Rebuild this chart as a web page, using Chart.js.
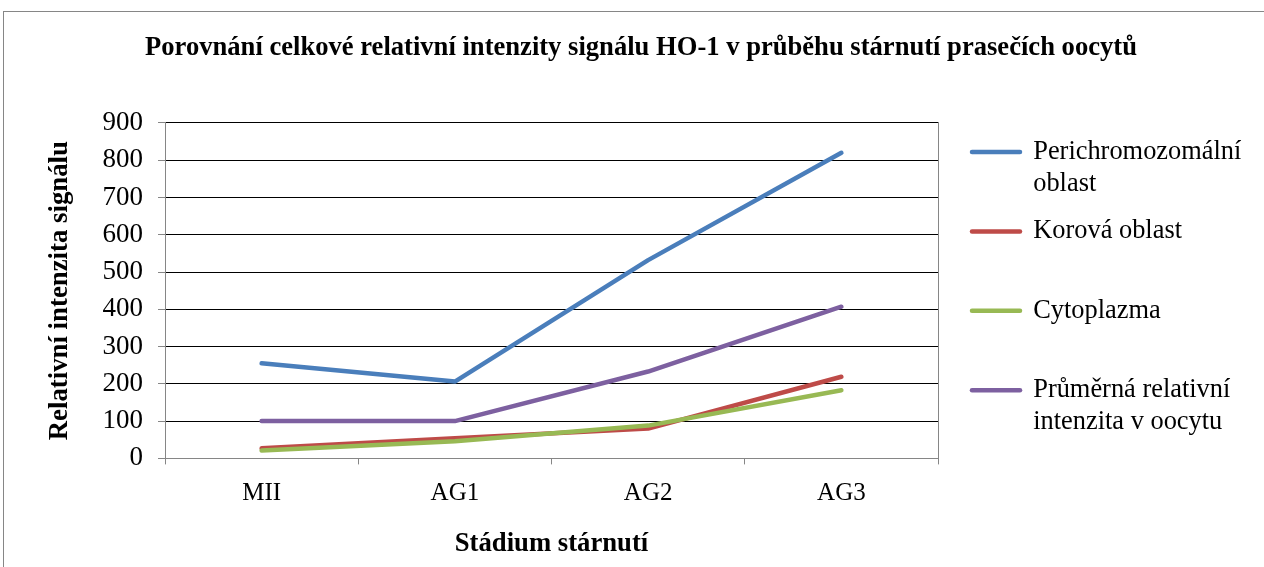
<!DOCTYPE html>
<html>
<head>
<meta charset="utf-8">
<title>HO-1 signál</title>
<script src="https://cdn.jsdelivr.net/npm/chart.js@4/dist/chart.umd.min.js"></script>
<style>
    html, body { margin: 0; padding: 0; background: #fff; overflow: hidden; }
    #wrap { position: relative; width: 1264px; height: 567px; }
    #frame { position: absolute; left: 3px; top: 11px; width: 1300px; height: 600px; border: 1px solid #868686; }
    #chart { position: absolute; left: 0; top: 0; }
</style>
</head>
<body>
<div id="wrap">
    <div id="frame"></div>
    <canvas id="chart" width="1264" height="567"></canvas>
</div>
<script>
// Data
const stages = ['MII', 'AG1', 'AG2', 'AG3'];
const perichromozomalni = [255, 206, 532, 820];
const korova = [27, 54, 80, 219];
const cytoplazma = [21, 46, 88, 183];
const prumerna = [100, 100, 233, 407];

const seriesNames = ['Perichromozomální oblast', 'Korová oblast', 'Cytoplazma', 'Průměrná relativní intenzita v oocytu'];
const legendLines = [['Perichromozomální', 'oblast'], ['Korová oblast', ''], ['Cytoplazma', ''], ['Průměrná relativní', 'intenzita v oocytu']];
const colors = ['#4A7EBB', '#BE4B48', '#98B954', '#7D60A0'];
const yTicks = [0, 100, 200, 300, 400, 500, 600, 700, 800, 900];

const SERIF = "'Liberation Serif', 'Times New Roman', serif";
const AXIS_GREY = '#868686';
const LEGEND_W = 306;

Chart.defaults.font.family = SERIF;
Chart.defaults.font.size = 26;
Chart.defaults.color = '#000';

// legend box gets a fixed width so the plot and title sit where Excel put them
const fixLegendWidth = {
    id: 'fixLegendWidth',
    beforeLayout(chart) {
        const lg = chart.legend;
        if (lg && !lg._fixedW) {
            const fit = lg.fit;
            lg.fit = function () { fit.call(this); this.width = LEGEND_W; };
            lg._fixedW = true;
        }
    }
};

const allSeries = [perichromozomalni, korova, cytoplazma, prumerna];
const datasets = allSeries.map((data, i) => ({
    label: seriesNames[i],
    data,
    borderColor: colors[i],
    backgroundColor: colors[i],
    borderWidth: 4.5,
    borderCapStyle: 'round',
    borderJoinStyle: 'round',
    pointRadius: 0,
    pointHoverRadius: 0,
    tension: 0,
    order: allSeries.length - i   // later series drawn on top, like Excel
}));

new Chart(document.getElementById('chart'), {
    type: 'line',
    data: { labels: stages, datasets },
    plugins: [fixLegendWidth],
    options: {
        responsive: false,
        animation: false,
        layout: { padding: { left: 20, right: 2, top: 0, bottom: 0 } },
        plugins: {
            tooltip: { enabled: false },
            title: {
                display: true,
                text: 'Porovnání celkové relativní intenzity signálu HO-1 v průběhu stárnutí prasečích oocytů',
                font: { size: 26.6, weight: 'bold' },
                color: '#000',
                padding: { top: 32, bottom: 59 }
            },
            legend: {
                position: 'right',
                align: 'start',
                fullSize: false,
                labels: {
                    usePointStyle: true,
                    pointStyle: 'line',
                    pointStyleWidth: 48,
                    padding: 16,
                    font: { size: 26.4 },
                    color: '#000',
                    sort: (a, b) => a.datasetIndex - b.datasetIndex,
                    generateLabels(chart) {
                        return Chart.defaults.plugins.legend.labels.generateLabels(chart)
                            .map(it => ({ ...it, text: legendLines[it.datasetIndex], lineCap: 'round' }));
                    }
                }
            }
        },
        scales: {
            x: {
                offset: true,
                grid: {
                    offset: true,
                    drawOnChartArea: false,
                    drawTicks: true,
                    tickLength: 6,
                    color: AXIS_GREY
                },
                border: { color: AXIS_GREY, width: 1 },
                ticks: { padding: 14, font: { size: 25 }, color: '#000' },
                title: {
                    display: true,
                    text: 'Stádium stárnutí',
                    font: { size: 26.7, weight: 'bold' },
                    color: '#000',
                    padding: { top: 0, bottom: 6.4 }
                },
                afterFit(scale) { scale.height = 108.6; }
            },
            y: {
                min: 0,
                max: 900,
                afterBuildTicks(scale) { scale.ticks = yTicks.map(v => ({ value: v })); },
                grid: {
                    color: ctx => (ctx.tick && ctx.tick.value === 0) ? AXIS_GREY : '#000',
                    tickColor: AXIS_GREY,
                    tickLength: 7,
                    lineWidth: 1
                },
                border: { color: AXIS_GREY, width: 1 },
                ticks: { padding: 15, font: { size: 27 }, color: '#000' },
                title: {
                    display: true,
                    text: 'Relativní intenzita signálu',
                    font: { size: 26.8, weight: 'bold' },
                    color: '#000',
                    padding: { top: 24, bottom: 0 }
                },
                afterFit(scale) { scale.width = 145; }
            },
            yRight: {
                position: 'right',
                min: 0,
                max: 900,
                grid: { drawOnChartArea: false, drawTicks: false },
                border: { color: AXIS_GREY, width: 1 },
                ticks: { display: false },
                afterFit(scale) { scale.width = 18; }
            }
        }
    }
});
</script>
</body>
</html>
